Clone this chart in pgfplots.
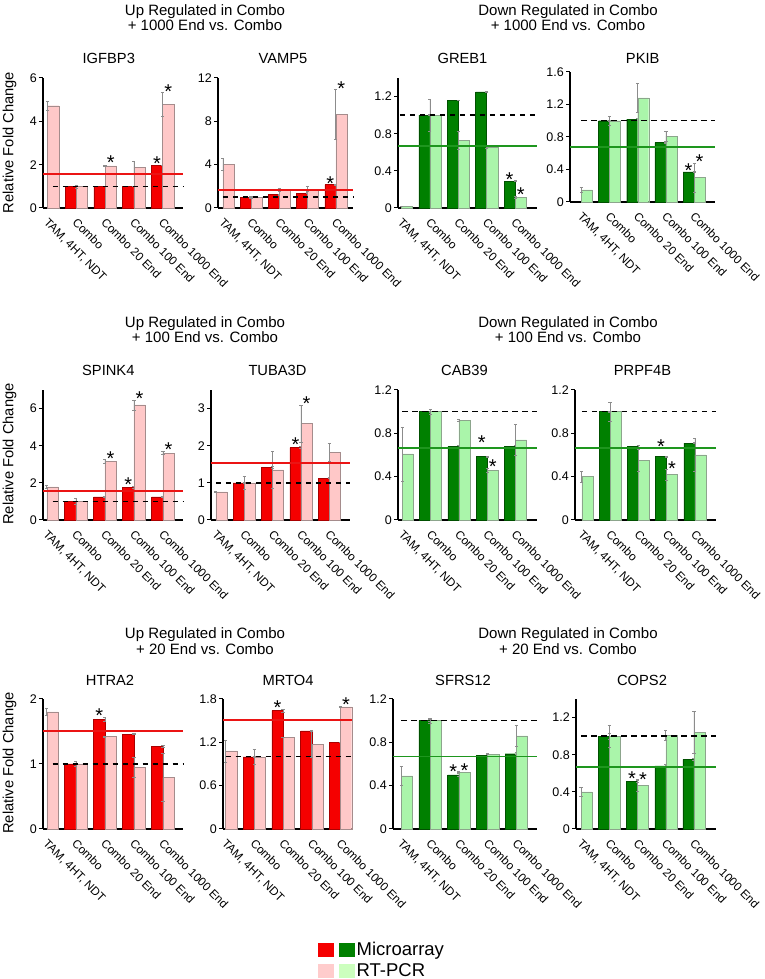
\documentclass[border=0pt]{standalone}
\usepackage{fontspec}
\setmainfont{Liberation Sans}
\usepackage{pgfplots}
\pgfplotsset{compat=1.18}
\definecolor{mred}{RGB}{245,0,0}
\definecolor{mredE}{RGB}{170,0,0}
\definecolor{pred}{RGB}{255,200,200}
\definecolor{predE}{RGB}{165,140,140}
\definecolor{mgreen}{RGB}{0,128,0}
\definecolor{mgreenE}{RGB}{0,80,0}
\definecolor{pgreen}{RGB}{170,245,170}
\definecolor{pgreenE}{RGB}{140,165,140}
\definecolor{lred}{RGB}{235,20,20}
\definecolor{lgreen}{RGB}{30,150,30}
\definecolor{legpink}{RGB}{255,204,204}
\definecolor{leggreen}{RGB}{204,255,190}
\newcommand{\tf}{\fontsize{12.5}{14}\selectfont}
\newcommand{\sig}[2]{\node[font=\fontsize{20}{20}\selectfont, inner sep=0pt, anchor=base, yshift=-11.6pt] at (axis cs:#1,#2) {*};}
\pgfplotsset{
 panel/.style={
  scale only axis, height=130pt, anchor=south west,
  axis lines*=left, axis line style={black, line width=1.2pt},
  ymin=0, clip=false,
  xtick={0,1,2,3,4},
  xticklabels={{TAM, 4HT, NDT},Combo,Combo 20 End,Combo 100 End,Combo 1000 End},
  xtick style={draw=none},
  ytick style={black, line width=1pt},
  tick align=outside, major tick length=4pt,
  /pgf/number format/assume math mode=true,
  yticklabel style={font=\tf, /pgf/number format/fixed, inner sep=2pt},
  xticklabel style={font=\fontsize{11.8}{12}\selectfont, xshift=1.5pt, yshift=-5pt, rotate=-45, anchor=north west, inner sep=0pt},
  scaled y ticks=false,
 },
 errb/.style={error bars/y dir=both, error bars/y explicit,
   error bars/error bar style={color=black!45, line width=0.6pt},
   error bars/error mark options={rotate=90, mark size=1.6pt, color=black!45, line width=0.6pt}},
 dkR/.style={ybar, bar width=0.39, bar shift=-0.195, fill=mred, draw=mredE, line width=0.4pt, errb},
 ltR/.style={ybar, bar width=0.39, bar shift=0.195, fill=pred, draw=predE, line width=0.4pt, errb},
 dkG/.style={ybar, bar width=0.39, bar shift=-0.195, fill=mgreen, draw=mgreenE, line width=0.4pt, errb},
 ltG/.style={ybar, bar width=0.39, bar shift=0.195, fill=pgreen, draw=pgreenE, line width=0.4pt, errb},
 rline/.style={draw=lred, solid, line width=1.8pt, mark=none, forget plot},
 gline/.style={draw=lgreen, solid, line width=1.7pt, mark=none, forget plot},
 dline/.style={draw=black, line width=1.4pt, dash pattern=on 5.5pt off 4.5pt, mark=none, forget plot},
}
\begin{document}
\begin{tikzpicture}
\useasboundingbox (0pt,0pt) rectangle (765pt,979pt);
% group titles
\foreach \yy/\nn in {961.3/1000, 649.5/100, 337.7/20}{
 \node[font=\fontsize{15}{15.7}\selectfont, align=center] at (205pt,\yy pt) {Up Regulated in Combo\\+ \nn\ End vs. Combo};
 \node[font=\fontsize{15}{15.7}\selectfont, align=center] at (568pt,\yy pt) {Down Regulated in Combo\\+ \nn\ End vs. Combo};
}
% panel titles
\begin{scope}[every node/.style={font=\fontsize{14.7}{15}\selectfont}]
\node at (108.8pt,920.7pt) {IGFBP3};
\node at (283pt,920.7pt) {VAMP5};
\node at (462.5pt,920.7pt) {GREB1};
\node at (642.7pt,920.7pt) {PKIB};
\node at (108.3pt,609pt) {SPINK4};
\node at (277.5pt,609pt) {TUBA3D};
\node at (464.5pt,609pt) {CAB39};
\node at (642.5pt,609pt) {PRPF4B};
\node at (110pt,299pt) {HTRA2};
\node at (288pt,299pt) {MRTO4};
\node at (463pt,299pt) {SFRS12};
\node at (642pt,299pt) {COPS2};
\node[rotate=90] at (9.5pt,836.5pt) {Relative Fold Change};
\node[rotate=90] at (9.5pt,525pt) {Relative Fold Change};
\node[rotate=90] at (9.5pt,216pt) {Relative Fold Change};
\end{scope}

% 1 IGFBP3
\begin{axis}[panel, at={(43pt,771pt)}, width=140pt, xmin=-0.16, xmax=4.71, ymax=6, ytick={0,2,4,6}]
\addplot[dkR] coordinates {(1,1.0) +- (0,0.01) (2,1.0) +- (0,0.01) (3,1.0) +- (0,0.01) (4,1.97) +- (0,0.02)};
\addplot[ltR] coordinates {(0,4.72) +- (0,0.2) (1,1.0) +- (0,0.07) (2,1.94) +- (0,0.02) (3,1.89) +- (0,0.28) (4,4.77) +- (0,0.55)};
\addplot[rline] coordinates {(-0.16,1.58) (4.71,1.58)};
\addplot[dline] coordinates {(0.18,1) (4.71,1)};
\sig{2.195}{2.31} \sig{3.805}{2.25} \sig{4.195}{5.57}
\end{axis}
% 2 VAMP5
\begin{axis}[panel, at={(218pt,771pt)}, width=135pt, xmin=-0.17, xmax=4.61, ymax=12, ytick={0,4,8,12}]
\addplot[dkR] coordinates {(1,1.0) +- (0,0.02) (2,1.23) +- (0,0.03) (3,1.38) +- (0,0.03) (4,2.15) +- (0,0.05)};
\addplot[ltR] coordinates {(0,4.03) +- (0,0.55) (1,1.0) +- (0,0.1) (2,1.7) +- (0,0.15) (3,1.75) +- (0,0.25) (4,8.65) +- (0,2.35)};
\addplot[rline] coordinates {(-0.17,1.63) (4.61,1.63)};
\addplot[dline] coordinates {(0,1) (4.61,1)};
\sig{3.805}{2.7} \sig{4.195}{11.47}
\end{axis}
% 3 GREB1
\begin{axis}[panel, at={(398pt,771pt)}, width=139pt, xmin=-0.12, xmax=4.77, ymax=1.4, ytick={0,0.4,0.8,1.2}]
\addplot[dkG] coordinates {(1,1.0) +- (0,0.005) (2,1.16) +- (0,0.005) (3,1.25) +- (0,0.005) (4,0.29) +- (0,0.005)};
\addplot[ltG] coordinates {(0,0.02) +- (0,0.003) (1,1.0) +- (0,0.17) (2,0.73) +- (0,0.1) (3,0.66) +- (0,0.02) (4,0.115) +- (0,0.007)};
\addplot[gline] coordinates {(-0.12,0.67) (4.77,0.67)};
\addplot[dline] coordinates {(-0.05,1) (4.77,1)};
\sig{3.805}{0.358} \sig{4.195}{0.19}
\end{axis}
% 4 PKIB
\begin{axis}[panel, at={(570pt,777pt)}, width=145pt, xmin=-0.4, xmax=4.74, ymax=1.6, ytick={0,0.4,0.8,1.2,1.6}]
\addplot[dkG] coordinates {(1,1.0) +- (0,0.005) (2,1.02) +- (0,0.01) (3,0.73) +- (0,0.005) (4,0.37) +- (0,0.005)};
\addplot[ltG] coordinates {(0,0.15) +- (0,0.03) (1,1.0) +- (0,0.05) (2,1.28) +- (0,0.18) (3,0.81) +- (0,0.06) (4,0.30) +- (0,0.18)};
\addplot[gline] coordinates {(-0.4,0.68) (4.74,0.68)};
\addplot[dline] coordinates {(0,1) (4.74,1)};
\sig{3.805}{0.448} \sig{4.195}{0.55}
\end{axis}
% 5 SPINK4
\begin{axis}[panel, at={(43pt,459pt)}, width=140pt, xmin=-0.13, xmax=4.69, ymax=7, ytick={0,2,4,6}]
\addplot[dkR] coordinates {(1,1.0) +- (0,0.02) (2,1.24) +- (0,0.03) (3,1.77) +- (0,0.04) (4,1.24) +- (0,0.03)};
\addplot[ltR] coordinates {(0,1.79) +- (0,0.1) (1,1.0) +- (0,0.15) (2,3.15) +- (0,0.1) (3,6.2) +- (0,0.27) (4,3.6) +- (0,0.08)};
\addplot[rline] coordinates {(-0.13,1.55) (4.69,1.55)};
\addplot[dline] coordinates {(0.2,1) (4.69,1)};
\sig{2.195}{3.58} \sig{2.805}{2.15} \sig{3.195}{6.81} \sig{4.195}{4.03}
\end{axis}
% 6 TUBA3D
\begin{axis}[panel, at={(211pt,459pt)}, width=139pt, xmin=-0.17, xmax=4.73, ymax=3.5, ytick={0,1,2,3}]
\addplot[dkR] coordinates {(1,1.0) +- (0,0.01) (2,1.41) +- (0,0.03) (3,1.95) +- (0,0.03) (4,1.13) +- (0,0.02)};
\addplot[ltR] coordinates {(0,0.76) +- (0,0.02) (1,1.0) +- (0,0.17) (2,1.35) +- (0,0.5) (3,2.6) +- (0,0.5) (4,1.82) +- (0,0.25)};
\addplot[rline] coordinates {(-0.17,1.53) (4.73,1.53)};
\addplot[dline] coordinates {(0,1) (4.73,1)};
\sig{2.805}{2.15} \sig{3.195}{3.25}
\end{axis}
% 7 CAB39
\begin{axis}[panel, at={(398pt,459pt)}, width=139pt, xmin=-0.15, xmax=4.76, ymax=1.2, ytick={0,0.4,0.8,1.2}]
\addplot[dkG] coordinates {(1,1.0) +- (0,0.005) (2,0.68) +- (0,0.005) (3,0.585) +- (0,0.005) (4,0.68) +- (0,0.005)};
\addplot[ltG] coordinates {(0,0.61) +- (0,0.25) (1,1.0) +- (0,0.02) (2,0.92) +- (0,0.005) (3,0.46) +- (0,0.02) (4,0.74) +- (0,0.14)};
\addplot[gline] coordinates {(-0.15,0.667) (4.76,0.667)};
\addplot[dline] coordinates {(0,1) (4.76,1)};
\sig{2.805}{0.754} \sig{3.195}{0.54}
\end{axis}
% 8 PRPF4B
\begin{axis}[panel, at={(575pt,459pt)}, width=141pt, xmin=-0.24, xmax=4.75, ymax=1.2, ytick={0,0.4,0.8,1.2}]
\addplot[dkG] coordinates {(1,1.0) +- (0,0.005) (2,0.68) +- (0,0.01) (3,0.585) +- (0,0.005) (4,0.71) +- (0,0.005)};
\addplot[ltG] coordinates {(0,0.40) +- (0,0.05) (1,1.0) +- (0,0.09) (2,0.55) +- (0,0.1) (3,0.42) +- (0,0.05) (4,0.60) +- (0,0.15)};
\addplot[gline] coordinates {(-0.24,0.667) (4.75,0.667)};
\addplot[dline] coordinates {(0,1) (4.75,1)};
\sig{2.805}{0.72} \sig{3.195}{0.52}
\end{axis}
% 9 HTRA2
\begin{axis}[panel, at={(43pt,150pt)}, width=140pt, xmin=-0.13, xmax=4.69, ymax=2, ytick={0,1,2}]
\addplot[dkR] coordinates {(1,1.0) +- (0,0.01) (2,1.69) +- (0,0.03) (3,1.46) +- (0,0.01) (4,1.27) +- (0,0.02)};
\addplot[ltR] coordinates {(0,1.80) +- (0,0.05) (1,1.0) +- (0,0.04) (2,1.42) +- (0,0.003) (3,0.95) +- (0,0.15) (4,0.79) +- (0,0.37)};
\addplot[rline] coordinates {(-0.13,1.505) (4.69,1.505)};
\addplot[dline] coordinates {(0.2,1) (4.69,1)};
\sig{1.805}{1.82}
\end{axis}
% 10 MRTO4
\begin{axis}[panel, at={(223pt,150pt)}, width=129pt, xmin=-0.09, xmax=4.4, ymax=1.8, ytick={0,0.6,1.2,1.8}]
\addplot[dkR] coordinates {(1,1.0) +- (0,0.005) (2,1.64) +- (0,0.02) (3,1.36) +- (0,0.01) (4,1.2) +- (0,0.005)};
\addplot[ltR] coordinates {(0,1.08) +- (0,0.15) (1,1.0) +- (0,0.1) (2,1.27) +- (0,0.003) (3,1.17) +- (0,0.18) (4,1.69) +- (0,0.005)};
\addplot[rline] coordinates {(-0.09,1.51) (4.4,1.51)};
\addplot[dline] coordinates {(0,1) (4.4,1)};
\sig{1.805}{1.74} \sig{4.195}{1.79}
\end{axis}
% 11 SFRS12
\begin{axis}[panel, at={(393pt,150pt)}, width=144pt, xmin=-0.29, xmax=4.72, ymax=1.2, ytick={0,0.4,0.8,1.2}]
\addplot[dkG] coordinates {(1,1.0) +- (0,0.01) (2,0.50) +- (0,0.01) (3,0.68) +- (0,0.01) (4,0.695) +- (0,0.01)};
\addplot[ltG] coordinates {(0,0.49) +- (0,0.09) (1,1.0) +- (0,0.02) (2,0.525) +- (0,0.005) (3,0.69) +- (0,0.005) (4,0.86) +- (0,0.1)};
\addplot[gline] coordinates {(-0.29,0.67) (4.72,0.67)};
\addplot[dline] coordinates {(0,1) (4.72,1)};
\sig{1.805}{0.575} \sig{2.195}{0.585}
\end{axis}
% 12 COPS2
\begin{axis}[panel, at={(576pt,150pt)}, width=140pt, xmin=-0.18, xmax=4.78, ymax=1.4, ytick={0,0.4,0.8,1.2}]
\addplot[dkG] coordinates {(1,1.0) +- (0,0.03) (2,0.515) +- (0,0.01) (3,0.68) +- (0,0.02) (4,0.75) +- (0,0.01)};
\addplot[ltG] coordinates {(0,0.40) +- (0,0.05) (1,1.0) +- (0,0.12) (2,0.47) +- (0,0.06) (3,1.01) +- (0,0.05) (4,1.04) +- (0,0.23)};
\addplot[gline] coordinates {(-0.18,0.667) (4.78,0.667)};
\addplot[dline] coordinates {(0,1) (4.78,1)};
\sig{1.805}{0.595} \sig{2.195}{0.584}
\end{axis}
% legend
\begin{axis}[at={(0pt,0pt)}, anchor=south west, scale only axis, width=765pt, height=979pt,
  xmin=0, xmax=765, ymin=0, ymax=979, hide axis,
  legend style={at={(0.4157,0.0398)}, anchor=north west, draw=none, fill=none, inner sep=0pt,
    font=\fontsize{18.5}{18.5}\selectfont, row sep=2pt, nodes={inner sep=2pt}},
  legend cell align=left]
\addlegendimage{legend image code/.code={\fill[mred] (0pt,-6.5pt) rectangle (15pt,6.5pt); \fill[mgreen] (21pt,-6.5pt) rectangle (36pt,6.5pt);}}
\addlegendentry{Microarray}
\addlegendimage{legend image code/.code={\fill[legpink] (0pt,-6.5pt) rectangle (15pt,6.5pt); \fill[leggreen] (21pt,-6.5pt) rectangle (36pt,6.5pt);}}
\addlegendentry{RT-PCR}
\end{axis}
\end{tikzpicture}
\end{document}
